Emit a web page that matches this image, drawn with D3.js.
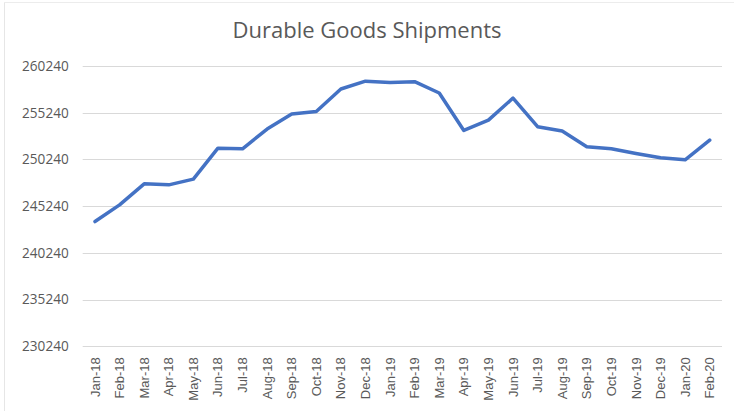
<!DOCTYPE html>
<html>
<head>
<meta charset="utf-8">
<script src="https://cdn.jsdelivr.net/npm/d3@7"></script>
<style>
  html, body { margin: 0; padding: 0; background: #fff; }
  svg { display: block; }
</style>
</head>
<body>
<svg id="chart" width="734" height="411"></svg>
<script>
const title = "Durable Goods Shipments";
const months = ["Jan-18","Feb-18","Mar-18","Apr-18","May-18","Jun-18","Jul-18","Aug-18","Sep-18","Oct-18","Nov-18","Dec-18",
                "Jan-19","Feb-19","Mar-19","Apr-19","May-19","Jun-19","Jul-19","Aug-19","Sep-19","Oct-19","Nov-19","Dec-19",
                "Jan-20","Feb-20"];
const shipments = [243590, 245380, 247630, 247520, 248130, 251450, 251380, 253490, 255100, 255370, 257780, 258620,
                   258480, 258560, 257350, 253340, 254450, 256810, 253740, 253280, 251590, 251380, 250880, 250410,
                   250200, 252310];
const yTicks = [230240, 235240, 240240, 245240, 250240, 255240, 260240];

const svg = d3.select("#chart");
const W = 734, H = 411;
const plotLeft = 82.7, plotRight = 722;

// faint chart border
svg.append("line").attr("x1", 4.5).attr("x2", 4.5).attr("y1", 2).attr("y2", H)
  .attr("stroke", "#e6e6e6").attr("stroke-width", 1);
svg.append("line").attr("x1", 4).attr("x2", W).attr("y1", 2.5).attr("y2", 2.5)
  .attr("stroke", "#ececec").attr("stroke-width", 1);

const x = d3.scaleBand().domain(months).range([plotLeft, plotRight]).padding(0);
const y = d3.scaleLinear().domain([230240, 260240]).range([346.3, 66]);

// gridlines
svg.append("g").selectAll("line").data(yTicks).join("line")
  .attr("x1", plotLeft).attr("x2", plotRight)
  .attr("y1", d => Math.round(y(d)) + 0.5).attr("y2", d => Math.round(y(d)) + 0.5)
  .attr("stroke", "#d9d9d9").attr("stroke-width", 1);

// y axis labels
const yAxis = d3.axisLeft(y).tickValues(yTicks).tickSize(0).tickPadding(14).tickFormat(d => String(d));
const gy = svg.append("g").attr("transform", `translate(${plotLeft},0)`).call(yAxis);
gy.select(".domain").remove();
gy.selectAll("text").attr("fill", "#595959").style("font-family", "'Open Sans', 'Noto Sans', sans-serif").style("font-size", "13.6px");

// x axis labels
const xAxis = d3.axisBottom(x).tickSize(0).tickPadding(0);
const gx = svg.append("g").attr("transform", `translate(0,346.3)`).call(xAxis);
gx.select(".domain").remove();
gx.selectAll("text")
  .attr("fill", "#595959")
  .style("font-family", "'Liberation Sans', Arial, sans-serif")
  .style("font-size", "13px")
  .attr("text-anchor", "end")
  .attr("transform", "rotate(-90)")
  .attr("x", -11)
  .attr("y", 0)
  .attr("dy", "0.35em");

// line
const line = d3.line().x((d, i) => x(months[i]) + x.bandwidth() / 2).y(d => y(d));
svg.append("path").datum(shipments)
  .attr("d", line)
  .attr("fill", "none")
  .attr("stroke", "#4472C4")
  .attr("stroke-width", 3.5)
  .attr("stroke-linejoin", "round")
  .attr("stroke-linecap", "round");

// title
svg.append("text").attr("x", 367).attr("y", 38)
  .attr("text-anchor", "middle")
  .attr("fill", "#595959")
  .style("font-family", "'Open Sans', 'Noto Sans', sans-serif")
  .style("font-size", "22px")
  .text(title);
</script>
</body>
</html>
